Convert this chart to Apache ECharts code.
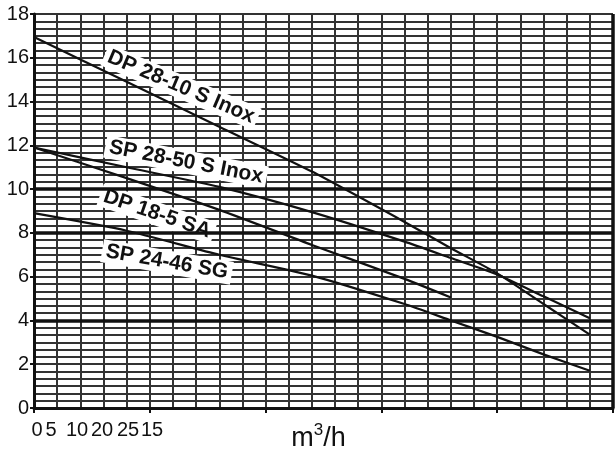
<!DOCTYPE html>
<html>
<head>
<meta charset="utf-8">
<style>
  html, body { margin: 0; padding: 0; background: #fff; }
  #chart { width: 615px; height: 454px; }
</style>
<script src="https://cdn.jsdelivr.net/npm/echarts@6/dist/echarts.min.js"></script>
</head>
<body>
<div id="chart"></div>
<script>
// flow positions (grid columns) and head values
const flow = [0, 4, 8, 12, 16, 18, 20, 22, 24]
const dp2810 = [16.95, 14.9, 12.85, 10.8, 8.5, 7.3, 6.15, 4.75, 3.35]
const sp2850 = [11.9, 11.0, 10.1, 8.95, 7.6, 6.85, 6.1, 5.1, 4.1]
const dp185 = [11.9, 10.5, 9.05, 7.45, 5.9, 5.05]
const sp2446 = [8.9, 8.1, 7.0, 6.05, 4.75, 4.0, 3.25, 2.45, 1.7]

const curveNames = ['DP 28-10 S Inox', 'SP 28-50 S Inox', 'DP 18-5 SA', 'SP 24-46 SG']
const xTickLabels = ['0', '5', '10', '20', '25', '15']
const heavyLines = [4, 8, 10]

// label placement (pixels) and rotation (degrees, clockwise)
const curveLabelPos = [[181, 87, 23], [186, 162, 11], [157, 214, 19], [167, 262, 10]]
const xTickLabelX = [37, 51, 77, 102, 128, 152]

const chart = echarts.init(document.getElementById('chart'))

const pairs = (heads) => heads.map((h, i) => [flow[i], h])
const curveStyle = { color: '#111', width: 2.2 }
const gridLine = { show: true, lineStyle: { color: '#333', width: 2 } }

const graphics = curveNames.map((name, i) => ({
  type: 'text',
  x: curveLabelPos[i][0],
  y: curveLabelPos[i][1],
  rotation: -curveLabelPos[i][2] * Math.PI / 180,
  z: 2,
  style: {
    text: name,
    font: 'bold 21px "Liberation Sans", Arial, sans-serif',
    fill: '#111',
    align: 'center',
    verticalAlign: 'middle',
    backgroundColor: '#fff',
    padding: [1, 4]
  }
})).concat(xTickLabels.map((t, i) => ({
  type: 'text',
  x: xTickLabelX[i],
  y: 430,
  z: 2,
  style: {
    text: t,
    font: '20px "Liberation Sans", Arial, sans-serif',
    fill: '#111',
    align: 'center',
    verticalAlign: 'middle'
  }
})))

chart.setOption({
  animation: false,
  grid: { left: 34, right: 2, top: 14, bottom: 46, outerBoundsMode: 'none' },
  xAxis: {
    type: 'value',
    min: 0,
    max: 25,
    interval: 5,
    name: '{u|m}{s|3}{u|/h}',
    nameLocation: 'middle',
    nameGap: 14,
    nameTextStyle: {
      padding: [0, 10, 0, 0],
      rich: {
        u: { fontSize: 27, color: '#111', fontFamily: 'Liberation Sans', lineHeight: 30, verticalAlign: 'bottom' },
        s: { fontSize: 17, color: '#111', fontFamily: 'Liberation Sans', lineHeight: 30, verticalAlign: 'top' }
      }
    },
    axisLine: { lineStyle: { color: '#111', width: 3 } },
    axisTick: { show: true, length: 5, lineStyle: { color: '#111', width: 2 } },
    axisLabel: { show: false },
    splitLine: gridLine,
    minorTick: { show: false, splitNumber: 5 },
    minorSplitLine: gridLine
  },
  yAxis: {
    type: 'value',
    min: 0,
    max: 18,
    interval: 2,
    axisLine: { show: true, lineStyle: { color: '#111', width: 3 } },
    axisTick: { show: true, length: 4, lineStyle: { color: '#111', width: 2 } },
    axisLabel: { fontSize: 20, color: '#111', fontFamily: 'Liberation Sans', margin: 5 },
    splitLine: gridLine,
    minorTick: { show: false, splitNumber: 6 },
    minorSplitLine: gridLine
  },
  graphic: graphics,
  series: [
    {
      type: 'line',
      data: [],
      z: 1,
      markLine: {
        symbol: 'none',
        silent: true,
        label: { show: false },
        lineStyle: { color: '#111', width: 3.5, type: 'solid' },
        data: heavyLines.map(v => ({ yAxis: v })).concat([{ xAxis: 25 }])
      }
    },
    { name: curveNames[0], type: 'line', z: 3, data: pairs(dp2810), smooth: 0.2, showSymbol: false, lineStyle: curveStyle },
    { name: curveNames[1], type: 'line', z: 3, data: pairs(sp2850), smooth: 0.2, showSymbol: false, lineStyle: curveStyle },
    { name: curveNames[2], type: 'line', z: 3, data: pairs(dp185), smooth: 0.2, showSymbol: false, lineStyle: curveStyle },
    { name: curveNames[3], type: 'line', z: 3, data: pairs(sp2446), smooth: 0.2, showSymbol: false, lineStyle: curveStyle }
  ]
})
</script>
</body>
</html>
